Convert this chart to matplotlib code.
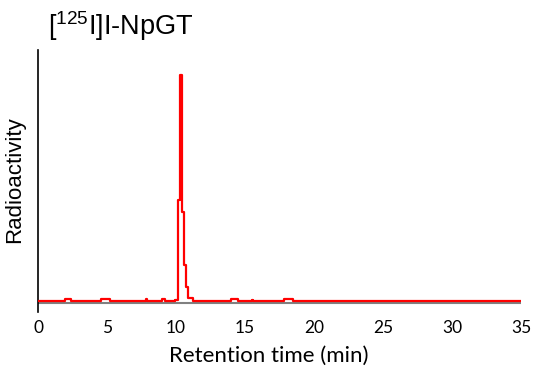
import matplotlib
matplotlib.use('Agg')
from matplotlib import pyplot as plt

plt.rcParams['mathtext.fontset'] = 'custom'
plt.rcParams['mathtext.rm'] = 'Liberation Sans'

# radio-HPLC trace, counts vs retention time (min), step data
rt = [0.0, 1.96, 2.37, 4.6, 5.2, 7.85, 7.92, 8.96, 9.2, 9.9, 10.11,
      10.29, 10.43, 10.47, 10.58, 10.72, 10.87, 11.2, 14.0, 14.5,
      15.5, 15.6, 17.8, 18.45, 35.0]
counts = [10, 19, 10, 19, 10, 18, 10, 18, 10, 15, 515,
          1140, 1055, 455, 190, 80, 25, 10, 19, 10,
          17, 10, 19, 10, 10]

xticks = [0, 5, 10, 15, 20, 25, 30, 35]

fig, ax = plt.subplots(figsize=(5.36, 3.69), dpi=100)
fig.subplots_adjust(left=0.0709, right=0.972, top=0.8645, bottom=0.1545)

ax.plot(rt, counts, drawstyle='steps-post', color='#ff0000', lw=1.6, zorder=3)
ax.axhline(0, color='#808080', lw=1.5, zorder=2)

ax.set_xlim(0, 35)
ax.set_ylim(-45, 1265)
ax.set_xticks(xticks)
ax.set_xticklabels([str(t) for t in xticks], family='Lato', fontsize=12.5)
ax.set_yticks([])
ax.tick_params(axis='x', length=0, pad=6)

for s in ['top', 'right', 'bottom']:
    ax.spines[s].set_visible(False)
ax.spines['left'].set_color('black')
ax.spines['left'].set_linewidth(1.2)

ax.set_xlabel('Retention time (min)', family='Lato', fontsize=16)
ax.xaxis.set_label_coords(0.478, -0.128)
ax.set_ylabel('Radioactivity', family='Liberation Sans', fontsize=16)
ax.yaxis.set_label_coords(-0.027, 0.504)

fig.text(0.089, 0.905, r'[$\mathregular{^{125}}$I]I-NpGT', family='Liberation Sans',
         fontsize=19.5, va='baseline', ha='left')

plt.savefig('out.png', dpi=100)
